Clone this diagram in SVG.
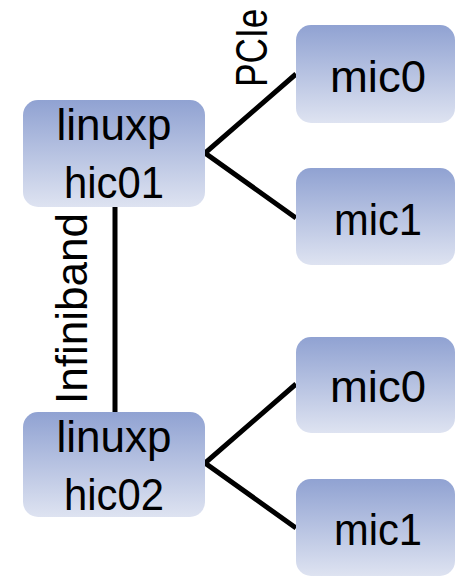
<svg xmlns="http://www.w3.org/2000/svg" width="456" height="577" viewBox="0 0 456 577">
<defs>
<linearGradient id="g" x1="0" y1="0" x2="0" y2="1">
<stop offset="0" stop-color="#90A2D2"/>
<stop offset="1" stop-color="#DEE3F1"/>
</linearGradient>
<style>
.box{fill:url(#g);}
.t{font-family:"Liberation Sans",Arial,sans-serif;font-size:44px;fill:#000;text-anchor:middle;}
.r{text-anchor:start;}
.c{stroke:#000;stroke-width:5;fill:none;}
</style>
</defs>
<rect width="456" height="577" fill="#fff"/>
<g id="connectors">
<polyline class="c" points="296,74 205,153 296,218"/>
<polyline class="c" points="296,384 205,463 296,528"/>
<line class="c" x1="115" y1="207" x2="115" y2="412"/>
</g>
<g id="labels">
<text class="t r" transform="translate(267,87) rotate(-90) scale(0.8,1)">PCIe</text>
<text class="t r" transform="translate(87,404) rotate(-90)" textLength="191" lengthAdjust="spacingAndGlyphs">Infiniband</text>
</g>
<g id="hic01">
<rect class="box" x="23" y="100" width="182" height="107" rx="15"/>
<text class="t" x="114" y="140">linuxp</text>
<text class="t" x="114" y="198" textLength="100" lengthAdjust="spacingAndGlyphs">hic01</text>
</g>
<g id="hic02">
<rect class="box" x="23" y="412" width="182" height="105" rx="15"/>
<text class="t" x="114" y="452">linuxp</text>
<text class="t" x="114" y="510" textLength="100" lengthAdjust="spacingAndGlyphs">hic02</text>
</g>
<g id="mic0a">
<rect class="box" x="296" y="25" width="159" height="98" rx="15"/>
<text class="t" x="378" y="92" textLength="96" lengthAdjust="spacingAndGlyphs">mic0</text>
</g>
<g id="mic1a">
<rect class="box" x="296" y="168" width="159" height="97" rx="15"/>
<text class="t" x="378" y="235" textLength="88" lengthAdjust="spacingAndGlyphs">mic1</text>
</g>
<g id="mic0b">
<rect class="box" x="296" y="337" width="159" height="96" rx="15"/>
<text class="t" x="378" y="402" textLength="96" lengthAdjust="spacingAndGlyphs">mic0</text>
</g>
<g id="mic1b">
<rect class="box" x="296" y="479" width="159" height="97" rx="15"/>
<text class="t" x="378" y="545" textLength="88" lengthAdjust="spacingAndGlyphs">mic1</text>
</g>
</svg>
